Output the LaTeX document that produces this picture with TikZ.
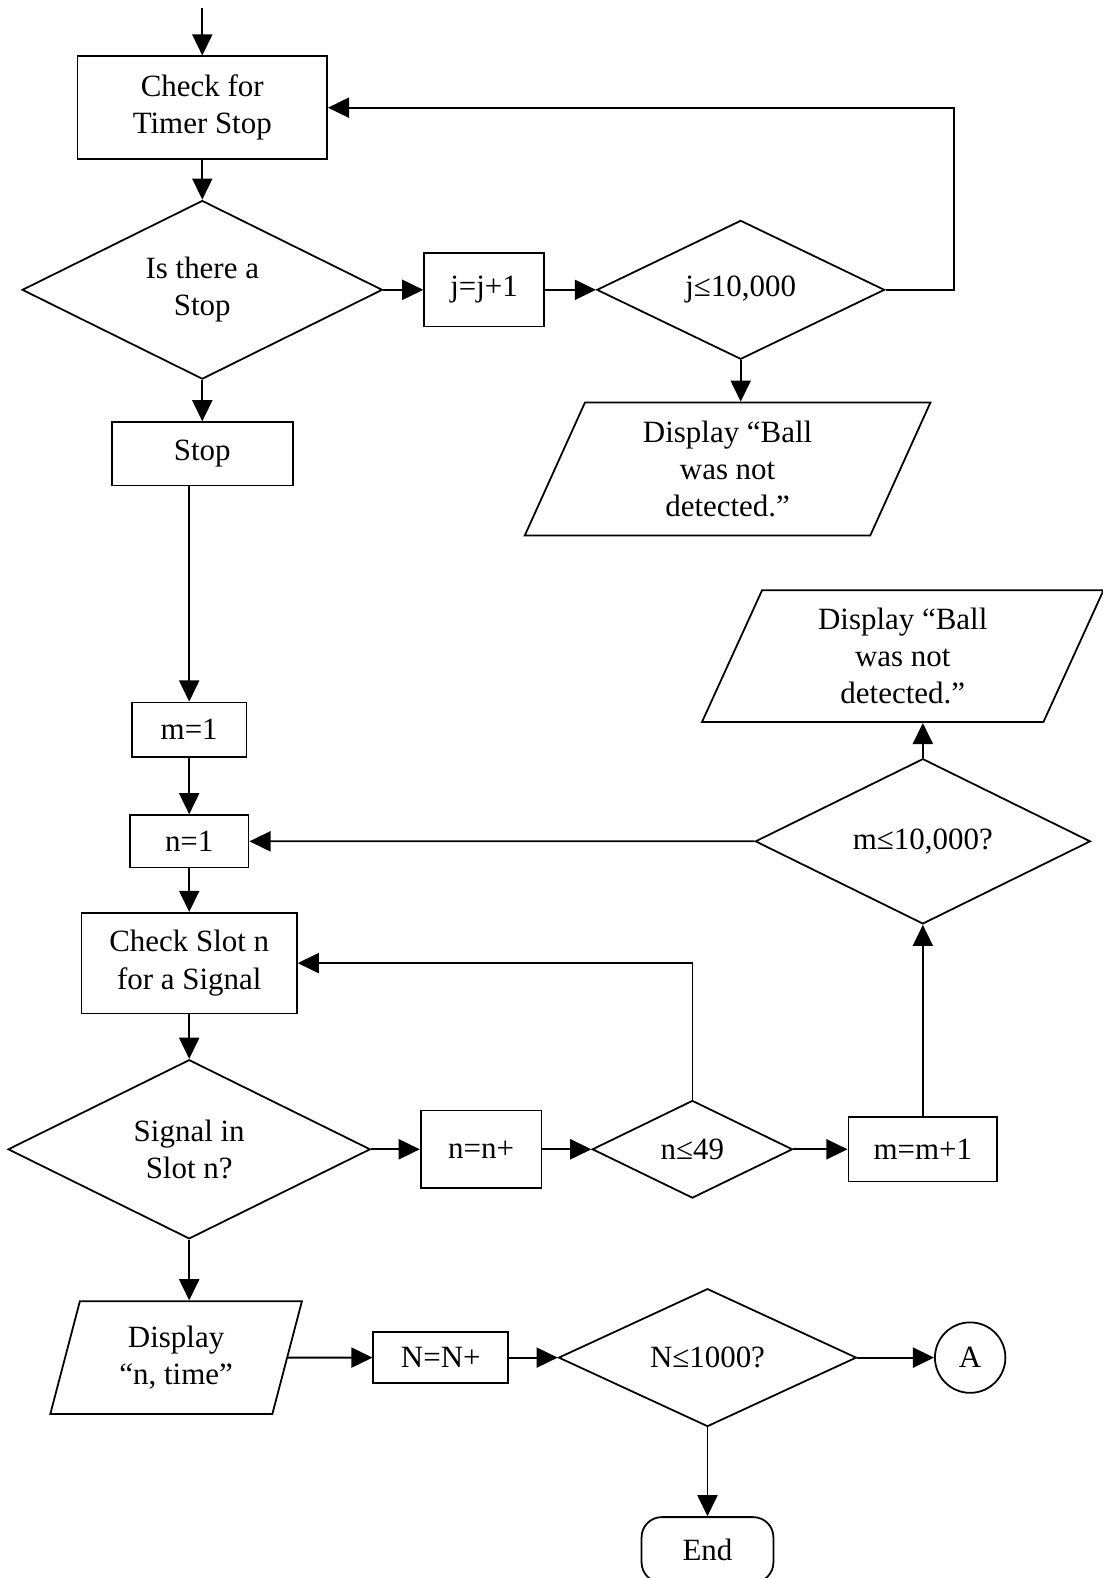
\documentclass[tikz,border=0pt]{standalone}
\usepackage{fontspec}
\setmainfont{Liberation Serif}
\usetikzlibrary{shapes.geometric,arrows.meta,positioning}

\begin{document}
\begin{tikzpicture}[->,>={Triangle[length=0.42cm,width=0.40cm]},line width=1pt,
                    font=\fontsize{17.5}{21}\selectfont,
                    box/.style={rectangle, draw, align=center},
                    decision/.style={diamond, draw, align=center, inner sep=0pt},
                    io/.style={trapezium, trapezium stretches body, trapezium left angle=58, trapezium right angle=122, draw, align=center, inner sep=0pt},
                    ]
                    \useasboundingbox (0,0) rectangle (21.92,-31.36);

                    \node [box, minimum width=4.96cm, minimum height=2.04cm](check) at (4.02,-2.14){Check for\\Timer Stop};
                    \coordinate [above of = check, node distance=1.98cm](start);
                    \node [decision, minimum width=7.16cm, minimum height=3.52cm](dia1) [below of = check, node distance=3.62cm]{Is there a\\Stop};
                    \node [box, minimum width=2.38cm, minimum height=1.46cm](jbox) [right of = dia1, node distance=5.60cm]{j=j+1};
                    \node [decision, minimum width=5.72cm, minimum height=2.76cm](dia2) [right of = jbox, node distance=5.10cm]{j≤10,000};
                    \node [io, minimum width=8.06cm, minimum height=2.64cm](par1) [below of = dia2, node distance=3.56cm, xshift=-0.26cm]{Display “Ball\\was not\\detected.”};
                    \node [box, minimum width=3.60cm, minimum height=1.26cm](stop) [below of = dia1, node distance=3.26cm]{Stop};

                    \node [box, minimum width=2.28cm, minimum height=1.08cm](m1) [below of = stop, node distance=5.48cm, xshift=-0.26cm]{m=1};
                    \node [box, minimum width=2.36cm, minimum height=1.04cm](n1) [below of = m1, node distance=2.22cm]{n=1};
                    \node [box, minimum width=4.28cm, minimum height=2.00cm](slot) [below of = n1, node distance=2.42cm]{Check Slot n\\for a Signal};
                    \node [decision, minimum width=7.20cm, minimum height=3.56cm](dia3) [below of = slot, node distance=3.70cm]{Signal in\\Slot n?};
                    \node [box, minimum width=2.40cm, minimum height=1.54cm](nn) [right of = dia3, node distance=5.80cm]{n=n+};
                    \node [decision, minimum width=3.98cm, minimum height=1.94cm](dia4) [right of = nn, node distance=4.20cm]{n≤49};
                    \node [box, minimum width=2.96cm, minimum height=1.28cm](mm) [right of = dia4, node distance=4.58cm]{m=m+1};
                    \node [decision, minimum width=6.66cm, minimum height=2.94cm](dia5) [above of = mm, node distance=6.12cm]{m≤10,000?};
                    \node [io, minimum width=7.98cm, minimum height=2.62cm](par2) [above of = dia5, node distance=3.68cm, xshift=-0.40cm]{Display “Ball\\was not\\detected.”};

                    \node [io, trapezium left angle=65, trapezium right angle=115, minimum width=5.00cm, minimum height=2.24cm](par3) [below of = dia3, node distance=4.14cm, xshift=-0.26cm]{Display\\“n, time”};
                    \node [box, minimum width=2.68cm, minimum height=1.02cm](NN) [right of = par3, node distance=5.26cm]{N=N+};
                    \node [decision, minimum width=5.92cm, minimum height=2.74cm](dia6) [right of = NN, node distance=5.30cm]{N≤1000?};
                    \node [circle, draw, minimum size=1.40cm, inner sep=0pt](A) [right of = dia6, node distance=5.22cm]{A};
                    \node [rectangle, rounded corners=0.4cm, draw, minimum width=2.62cm, minimum height=1.30cm](end) [below of = dia6, node distance=3.82cm]{End};

                    \path
                        (start) edge (check)
                        (check) edge (dia1)
                        (dia1) edge (jbox)
                        (jbox) edge (dia2)
                        (dia2.south) edge (dia2.south |- par1.north)
                        (dia1) edge (stop)
                        (stop.south -| m1.north) edge (m1.north)
                        (m1) edge (n1)
                        (n1) edge (slot)
                        (slot) edge (dia3)
                        (dia3) edge (nn)
                        (nn) edge (dia4)
                        (dia4) edge (mm)
                        (mm) edge (dia5)
                        (dia5) edge (n1)
                        (dia5.north) edge (dia5.north |- par2.south)
                        (dia3.south) edge (dia3.south |- par3.north)
                        (par3) edge (NN)
                        (NN) edge (dia6)
                        (dia6) edge (A)
                        (dia6) edge (end)
                    ;

                    \draw (dia2.east) -- ++(1.36,0) |- (check.east);
                    \draw (dia4.north) |- (slot.east);

                \end{tikzpicture}
\end{document}
